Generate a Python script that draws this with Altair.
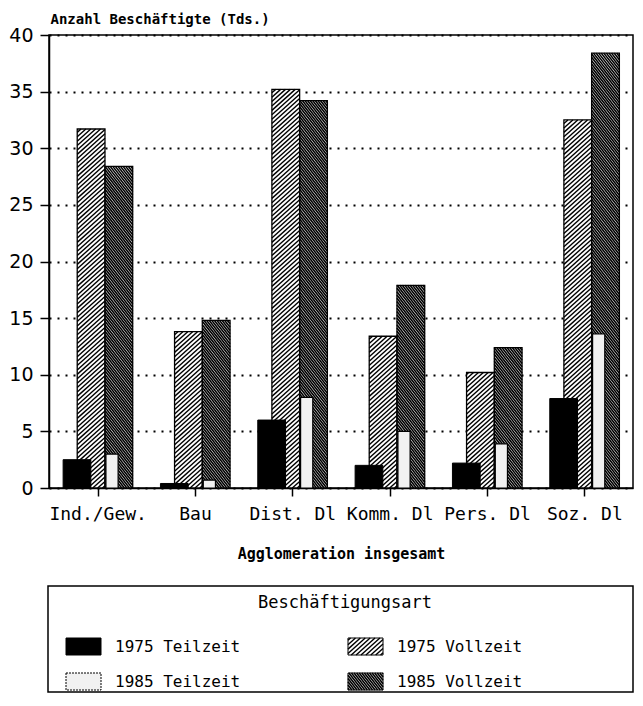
import json
import numpy as np
import pandas as pd
import altair as alt

# ---------------- data ----------------
categories = ["Ind./Gew.", "Bau", "Dist. Dl", "Komm. Dl", "Pers. Dl", "Soz. Dl"]
teil_1975 = [2.5, 0.4, 6.0, 2.0, 2.2, 7.9]
voll_1975 = [31.7, 13.8, 35.2, 13.4, 10.2, 32.5]
teil_1985 = [3.0, 0.7, 8.0, 5.0, 3.9, 13.6]
voll_1985 = [28.4, 14.8, 34.2, 17.9, 12.4, 38.4]
series_names = ["1975 Teilzeit", "1975 Vollzeit", "1985 Teilzeit", "1985 Vollzeit"]
y_ticks = [0, 5, 10, 15, 20, 25, 30, 35, 40]

# ---------------- layout ----------------
W, H = 584, 453
X_LEFT_ABS, Y_BOTTOM_ABS = 49, 488        # plot origin on the page
sx = W / len(categories)                  # px per x unit
sy = H / 40.0                             # px per y unit
offsets = {                               # bar extents within a category step
    "1975 Teilzeit": (-0.355, -0.07),
    "1975 Vollzeit": (-0.21, 0.075),
    "1985 Teilzeit": (0.085, 0.21),
    "1985 Vollzeit": (0.075, 0.36),
}
MONO = "DejaVu Sans Mono"

def ax(px):
    return (px - X_LEFT_ABS) / sx

def ay(py):
    return (Y_BOTTOM_ABS - py) / sy

def bars(series, values):
    lo, hi = offsets[series]
    return pd.DataFrame({
        "cat": categories,
        "series": series,
        "x": [i + 0.5 + lo for i in range(len(values))],
        "x2": [i + 0.5 + hi for i in range(len(values))],
        "y": [0.0] * len(values),
        "y2": values,
    })

def hatch(x0, x1, yb, yt, deg, period, kind):
    w = (x1 - x0) * sx
    h = (yt - yb) * sy
    m = np.tan(np.radians(deg))
    segs = []
    if kind == "/":
        for c in np.arange(-m * w + period / 2, h, period):
            ua, ub = max(0.0, -c / m), min(w, (h - c) / m)
            if ub - ua > 0.2:
                segs.append((ua, m * ua + c, ub, m * ub + c))
    else:
        for c in np.arange(period / 2, h + m * w, period):
            ua, ub = max(0.0, (c - h) / m), min(w, c / m)
            if ub - ua > 0.2:
                segs.append((ua, -m * ua + c, ub, -m * ub + c))
    return [
        {"hx": x0 + a / sx, "hy": yb + b / sy, "hx2": x0 + c / sx, "hy2": yb + d / sy}
        for a, b, c, d in segs
    ]

HATCH = {
    "1975 Vollzeit": dict(deg=42, period=4.4, kind="/", width=1.4),
    "1985 Vollzeit": dict(deg=52, period=3.3, kind="\\", width=1.6),
}

v75 = bars("1975 Vollzeit", voll_1975)
v85 = bars("1985 Vollzeit", voll_1985)
t75 = bars("1975 Teilzeit", teil_1975)
t85 = bars("1985 Teilzeit", teil_1985)
voll = pd.concat([v75, v85], ignore_index=True)

h75, h85 = [], []
for _, r in v75.iterrows():
    p = HATCH["1975 Vollzeit"]
    h75 += hatch(r.x, r.x2, r.y, r.y2, p["deg"], p["period"], p["kind"])
for _, r in v85.iterrows():
    p = HATCH["1985 Vollzeit"]
    h85 += hatch(r.x, r.x2, r.y, r.y2, p["deg"], p["period"], p["kind"])

# ---------------- legend geometry (page px -> data units) ----------------
box = pd.DataFrame([{"x": ax(48), "x2": ax(633), "y": ay(692), "y2": ay(586)}])
col_sw = [(66, 101), (348, 383)]
row_sw = [(638, 655), (673, 690)]
col_lab = [115, 397]
row_lab = [647, 682]
leg_pos = {"1975 Teilzeit": (0, 0), "1975 Vollzeit": (1, 0),
           "1985 Teilzeit": (0, 1), "1985 Vollzeit": (1, 1)}
sw_rows, lab_rows = [], []
for s in series_names:
    c, r = leg_pos[s]
    sw_rows.append({"series": s, "x": ax(col_sw[c][0]), "x2": ax(col_sw[c][1]),
                    "y": ay(row_sw[r][1]), "y2": ay(row_sw[r][0])})
    lab_rows.append({"series": s, "x": ax(col_lab[c]), "y": ay(row_lab[r])})
sw = pd.DataFrame(sw_rows)
labs = pd.DataFrame(lab_rows)
for _, r in sw.iterrows():
    if r.series in HATCH:
        p = HATCH[r.series]
        target = h75 if r.series == "1975 Vollzeit" else h85
        target += hatch(r.x, r.x2, r.y, r.y2, p["deg"], p["period"], p["kind"])
leg_title = pd.DataFrame([{"x": ax(345), "y": ay(603), "t": "Beschäftigungsart"}])

# ---------------- chart ----------------
xs = alt.Scale(domain=[0, len(categories)], nice=False, zero=False)
ys = alt.Scale(domain=[0, 40], nice=False, zero=False)
label_expr = f"{json.dumps(categories)}[floor(datum.value)]"

x_axis = alt.Axis(
    values=[i + 0.5 for i in range(len(categories))], labelExpr=label_expr,
    grid=False, tickSize=8, tickWidth=1.5, tickColor="black",
    domainColor="black", domainWidth=1.5, labelFlush=False,
    labelFont=MONO, labelFontSize=18, labelColor="black", labelPadding=9,
    title="Agglomeration insgesamt", titleFont=MONO, titleFontSize=15,
    titleFontWeight="bold", titleColor="black", titleY=65, titleBaseline="middle",
)
y_axis = alt.Axis(
    values=y_ticks, grid=True, gridDash=[2, 6], gridWidth=1.8, gridColor="black",
    tickSize=9, tickWidth=1.5, tickColor="black", domainColor="black", domainWidth=1.5,
    labelFont="DejaVu Sans", labelFontSize=19, labelColor="black", labelPadding=7,
    title="Anzahl Beschäftigte (Tds.)", titleAngle=0, titleAlign="left",
    titleBaseline="middle", titleX=1, titleY=-15.5, titleFont=MONO,
    titleFontSize=14, titleFontWeight="bold", titleColor="black",
)

def rect_layer(df, **mark):
    return alt.Chart(df).mark_rect(**mark).encode(
        x=alt.X("x:Q", scale=xs, axis=x_axis),
        x2="x2:Q",
        y=alt.Y("y:Q", scale=ys, axis=y_axis),
        y2="y2:Q",
    )

def hatch_layer(rows, width):
    return alt.Chart(pd.DataFrame(rows)).mark_rule(
        color="black", strokeWidth=width, strokeCap="butt"
    ).encode(
        x=alt.X("hx:Q", scale=xs, axis=x_axis), x2="hx2:Q",
        y=alt.Y("hy:Q", scale=ys, axis=y_axis), y2="hy2:Q",
    )

layers = [
    rect_layer(voll, fill="white"),
    hatch_layer(h75, HATCH["1975 Vollzeit"]["width"]),
    hatch_layer(h85, HATCH["1985 Vollzeit"]["width"]),
    rect_layer(voll, fillOpacity=0, stroke="black", strokeWidth=1.3),
    rect_layer(t75, fill="black", stroke="black", strokeWidth=1),
    rect_layer(t85, fill="#f1f1f1", stroke="black", strokeWidth=1.2),
    # legend
    rect_layer(box, fillOpacity=0, stroke="black", strokeWidth=1.5),
    rect_layer(sw[sw.series.isin(["1975 Vollzeit", "1985 Vollzeit"])],
               fillOpacity=0, stroke="black", strokeWidth=1),
    rect_layer(sw[sw.series == "1975 Teilzeit"], fill="black", stroke="black"),
    rect_layer(sw[sw.series == "1985 Teilzeit"], fill="#f1f1f1", stroke="black",
               strokeWidth=1, strokeDash=[2, 1]),
    alt.Chart(labs).mark_text(align="left", baseline="middle", font=MONO,
                              fontSize=16, color="black").encode(
        x=alt.X("x:Q", scale=xs, axis=x_axis), y=alt.Y("y:Q", scale=ys, axis=y_axis),
        text="series:N"),
    alt.Chart(leg_title).mark_text(align="center", baseline="middle", font=MONO,
                                   fontSize=17, color="black").encode(
        x=alt.X("x:Q", scale=xs, axis=x_axis), y=alt.Y("y:Q", scale=ys, axis=y_axis),
        text="t:N"),
]

chart = alt.layer(*layers).properties(
    width=W, height=H,
    padding={"left": 0, "top": 4, "right": 0, "bottom": 0},
).configure_view(stroke="black", strokeWidth=1.5)

chart.save("out.html", embed_options={"renderer": "svg", "actions": False})
